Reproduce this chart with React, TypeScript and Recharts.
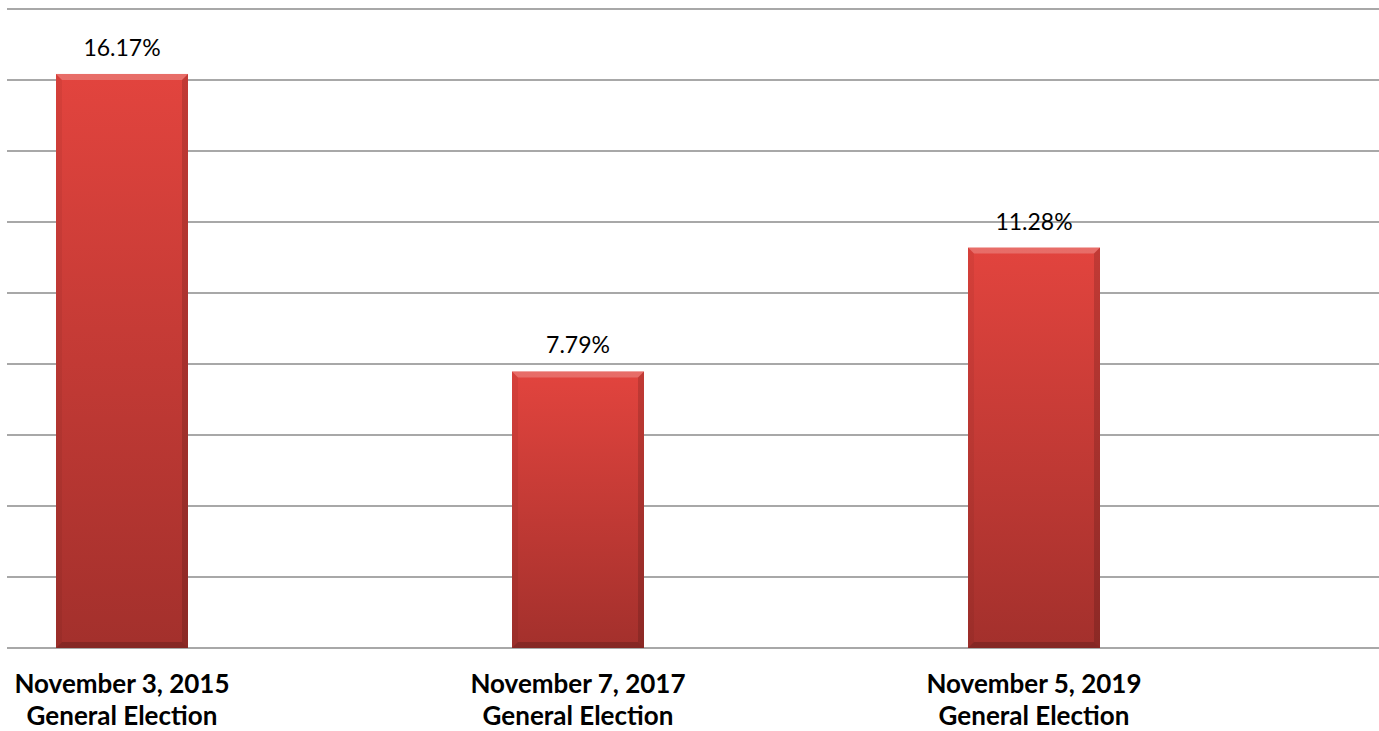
import {Bar, BarChart, CartesianGrid, LabelList, XAxis, YAxis} from 'recharts'

const categories = ['November 3, 2015', 'November 7, 2017', 'November 5, 2019']
const subtitle = 'General Election'
const shares = [16.17, 7.79, 11.28]
const yTicks = [0, 2, 4, 6, 8, 10, 12, 14, 16, 18]

const font = 'Lato, "Open Sans", sans-serif'

function BevelBar(props: any) {
  const {x, y, width: w, height: h} = props
  if (!w || !h) return null
  const b = 6
  return (
    <g>
      <rect x={x} y={y} width={w} height={h} fill="url(#bar-fill)" />
      <polygon points={`${x},${y} ${x + w},${y} ${x + w - b},${y + b} ${x + b},${y + b}`} fill="rgba(255,255,255,0.22)" />
      <polygon points={`${x},${y} ${x + b},${y + b} ${x + b},${y + h - b} ${x},${y + h}`} fill="rgba(0,0,0,0.05)" />
      <polygon points={`${x + w},${y} ${x + w},${y + h} ${x + w - b},${y + h - b} ${x + w - b},${y + b}`} fill="rgba(0,0,0,0.14)" />
      <polygon points={`${x},${y + h} ${x + w},${y + h} ${x + w - b},${y + h - b} ${x + b},${y + h - b}`} fill="rgba(0,0,0,0.18)" />
    </g>
  )
}

function CategoryTick(props: any) {
  const {x, y, payload} = props
  return (
    <text x={x} y={y} textAnchor="middle" fontFamily={font} fontWeight={700} fontSize={26} fill="#000">
      <tspan x={x} dy={37}>{payload.value}</tspan>
      <tspan x={x} dy={32}>{subtitle}</tspan>
    </text>
  )
}

export default function App() {
  const data = categories.map((name, i) => ({name, value: shares[i]}))

  return (
    <div style={{position: 'fixed', left: 0, top: 0, width: 1379, height: 731, background: '#fff'}}>
      <BarChart width={1379} height={731} data={data} margin={{top: 9, right: 0, bottom: 0, left: 7}}>
        <defs>
          <linearGradient id="bar-fill" x1="0" y1="0" x2="0" y2="1">
            <stop offset="0%" stopColor="#e2443e" />
            <stop offset="100%" stopColor="#a3302c" />
          </linearGradient>
        </defs>
        <CartesianGrid vertical={false} stroke="#a8a8a8" strokeWidth={2} />
        <XAxis
          dataKey="name"
          axisLine={false}
          tickLine={false}
          height={83}
          interval={0}
          padding={{left: -113, right: 117}}
          tick={<CategoryTick />}
        />
        <YAxis hide domain={[0, 18]} ticks={yTicks} />
        <Bar dataKey="value" barSize={132} shape={<BevelBar />} isAnimationActive={false}>
          <LabelList
            dataKey="value"
            position="top"
            offset={18}
            formatter={(v: any) => `${Number(v).toFixed(2)}%`}
            style={{fontFamily: font, fontSize: 23, fill: '#000'}}
          />
        </Bar>
      </BarChart>
    </div>
  )
}
